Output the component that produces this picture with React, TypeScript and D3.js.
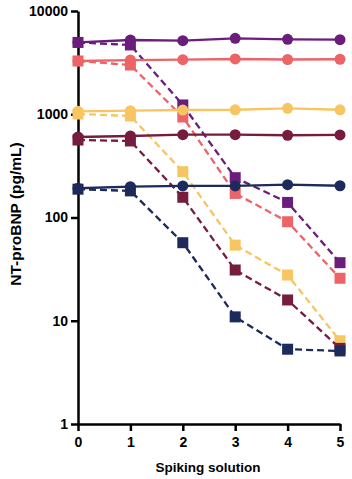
import React, { useRef, useEffect } from 'react';
import * as d3 from 'd3';

const spikes = [0, 1, 2, 3, 4, 5];
const yTicks = [1, 10, 100, 1000, 10000];

const seriesNames = ['purple', 'coral', 'yellow', 'maroon', 'navy'];
const seriesColors = ['#6b1d7c', '#ec6467', '#f7c663', '#761c3f', '#1d2a5c'];

// solid lines with circles
const purpleSolid = [4960, 5240, 5160, 5440, 5320, 5270];
const coralSolid = [3280, 3350, 3380, 3430, 3390, 3410];
const yellowSolid = [1068, 1082, 1099, 1105, 1142, 1105];
const maroonSolid = [602, 616, 634, 634, 626, 630];
const navySolid = [192, 199, 202, 202, 208, 203];

// dashed lines with squares
const purpleDashed = [4960, 4690, 1230, 243, 140, 36.5];
const coralDashed = [3280, 3000, 940, 171, 91, 25.8];
const yellowDashed = [1005, 962, 278, 54, 27.7, 6.4];
const maroonDashed = [563, 551, 157, 31, 15.9, 5.4];
const navyDashed = [188, 181, 57, 10.9, 5.3, 5.1];

const solidSets = [purpleSolid, coralSolid, yellowSolid, maroonSolid, navySolid];
const dashedSets = [purpleDashed, coralDashed, yellowDashed, maroonDashed, navyDashed];

const W = 352, H = 479;
const margin = { left: 78, right: 12, top: 11, bottom: 55 };

export default function App() {
    const svg_ref = useRef(null);
    useEffect(() => {
        draw(svg_ref.current);
    }, []);
    return (
        <svg ref={svg_ref} width={W} height={H}
            style={{ position: 'absolute', left: 0, top: 0, background: '#fff' }}></svg>
    );
}

function draw(node) {
    const svg = d3.select(node);
    svg.selectAll('*').remove();
    const font = 'Liberation Sans, Arial, sans-serif';

    const x = d3.scaleLinear().domain([0, 5]).range([margin.left, W - margin.right]);
    const y = d3.scaleLog().domain([1, 10000]).range([H - margin.bottom, margin.top]);

    // axes
    const xAxis = svg.append('g')
        .attr('transform', `translate(0,${H - margin.bottom})`)
        .call(d3.axisBottom(x).tickValues(spikes).tickSize(7).tickSizeOuter(0).tickPadding(6).tickFormat(d3.format('d')));
    const yAxis = svg.append('g')
        .attr('transform', `translate(${margin.left},0)`)
        .call(d3.axisLeft(y).tickValues(yTicks).tickSize(7).tickSizeOuter(0).tickPadding(3).tickFormat(d3.format('d')));
    [xAxis, yAxis].forEach(a => {
        a.select('.domain').attr('stroke', '#000').attr('stroke-width', 2.5);
        a.selectAll('.tick line').attr('stroke', '#000').attr('stroke-width', 2.5);
        a.selectAll('.tick text').attr('fill', '#000')
            .style('font-family', font).style('font-size', '14px').style('font-weight', 'bold');
    });

    const line = d3.line<number>().x((d, i) => x(spikes[i])).y(d => y(d));

    seriesNames.forEach((name, k) => {
        const c = seriesColors[k];
        const g = svg.append('g').attr('class', name);
        // dashed series
        g.append('path').datum(dashedSets[k])
            .attr('d', line).attr('fill', 'none').attr('stroke', c)
            .attr('stroke-width', 2.3).attr('stroke-dasharray', '7,4');
        g.selectAll('rect').data(dashedSets[k]).enter().append('rect')
            .attr('x', (d, i) => x(spikes[i]) - 5.5).attr('y', d => y(d) - 5.5)
            .attr('width', 11).attr('height', 11).attr('fill', c);
        // solid series
        g.append('path').datum(solidSets[k])
            .attr('d', line).attr('fill', 'none').attr('stroke', c).attr('stroke-width', 2.3);
        g.selectAll('circle').data(solidSets[k]).enter().append('circle')
            .attr('cx', (d, i) => x(spikes[i])).attr('cy', d => y(d))
            .attr('r', 5.5).attr('fill', c);
    });

    // axis titles
    svg.append('text')
        .attr('x', 208).attr('y', 472)
        .attr('text-anchor', 'middle')
        .style('font-family', font).style('font-size', '13.5px').style('font-weight', 'bold')
        .text('Spiking solution');
    svg.append('text')
        .attr('transform', `translate(21,214) rotate(-90)`)
        .attr('text-anchor', 'middle')
        .style('font-family', font).style('font-size', '15.5px').style('font-weight', 'bold')
        .text('NT-proBNP (pg/mL)');
}
